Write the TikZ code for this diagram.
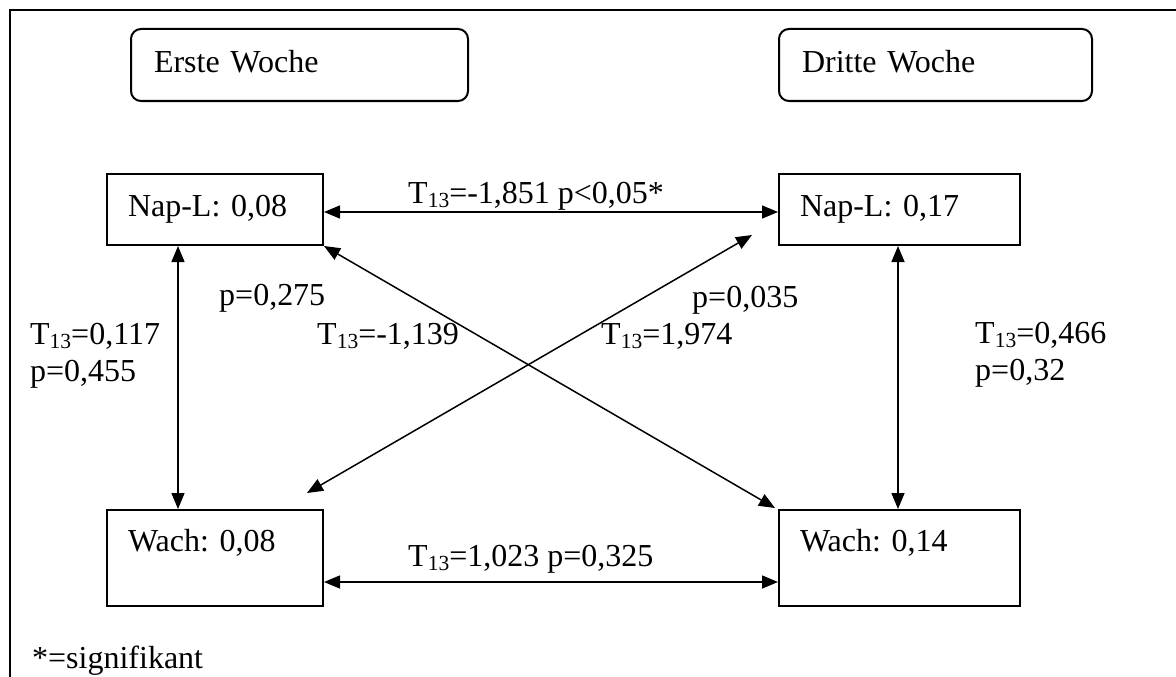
\documentclass[tikz,border=0pt]{standalone}
\usepackage{fontspec}
\setmainfont{Liberation Serif}
\usetikzlibrary{arrows.meta,calc}
\newcommand{\Tt}{T\raisebox{-4.5pt}{\fontsize{21.5}{21.5}\selectfont 13}}
\frenchspacing
\begin{document}
\begin{tikzpicture}[x=1pt,y=-1pt,
  every node/.style={font=\fontsize{32}{37}\selectfont},
  wbox/.style={draw,line width=2pt,rounded corners=10pt,anchor=north west,inner ysep=0pt,inner xsep=23pt,align=left},
  vbox/.style={draw,line width=2pt,anchor=north west,inner ysep=0pt,inner xsep=21pt,align=left},
  lbl/.style={anchor=base west,inner sep=0pt,align=left},
  dbl/.style={line width=1.5pt,{Triangle[length=16pt,width=13pt]}-{Triangle[length=16pt,width=13pt]}}
]
\useasboundingbox (0,0) rectangle (1176,677);
\fill[white] (0,0) rectangle (1176,677);
\draw[line width=2.7pt] (1176,10) -- (10,10) -- (10,677);

\node[wbox,text width=291pt,text height=44pt,text depth=28pt] (w1) at (130,28) {\frenchspacing Erste Woche};
\node[wbox,text width=267pt,text height=44pt,text depth=28pt] (w3) at (778,28) {\frenchspacing Dritte Woche};

\node[vbox,text width=174pt,text height=42pt,text depth=29pt] (nap1) at (106,173) {\frenchspacing Nap-L: 0,08};
\node[vbox,text width=199pt,text height=42pt,text depth=29pt] (nap2) at (778,173) {\frenchspacing Nap-L: 0,17};
\node[vbox,text width=174pt,text height=41pt,text depth=55pt] (wach1) at (106,509) {\frenchspacing Wach: 0,08};
\node[vbox,text width=199pt,text height=41pt,text depth=55pt] (wach2) at (778,509) {\frenchspacing Wach: 0,14};

\draw[dbl] ([yshift=-39pt]nap1.north east) -- ([yshift=-39pt]nap2.north west);
\draw[dbl] ([yshift=25pt]wach1.south east) -- ([yshift=25pt]wach2.south west);
\draw[dbl] ([xshift=72pt]nap1.south west) -- ([xshift=72pt]wach1.north west);
\draw[dbl] ([xshift=120pt]nap2.south west) -- ([xshift=120pt]wach2.north west);
\draw[dbl] (nap1.south east) -- ([shift={(-3pt,1pt)}]wach2.north west);
\draw[dbl] ([shift={(-17pt,16pt)}]wach1.north east) -- ([shift={(-26pt,11pt)}]nap2.south west);

\node[lbl] (l1) at (408,203) {\Tt=-1,851 p<0,05*};
\node[lbl] (l2) at (408,566) {\Tt=1,023 p=0,325};
\node[lbl] (l3) at (30,381) {\Tt=0,117\\p=0,455};
\node[lbl] (l4) at (975,380) {\Tt=0,466\\p=0,32};
\node[lbl] (l5) at (219,305) {p=0,275};
\node[lbl] (l6) at (317,344) {\Tt=-1,139};
\node[lbl] (l7) at (692,307) {p=0,035};
\node[lbl] (l8) at (601,344) {\Tt=1,974};
\node[lbl] (l9) at (32,668) {*=signifikant};
\end{tikzpicture}
\end{document}
